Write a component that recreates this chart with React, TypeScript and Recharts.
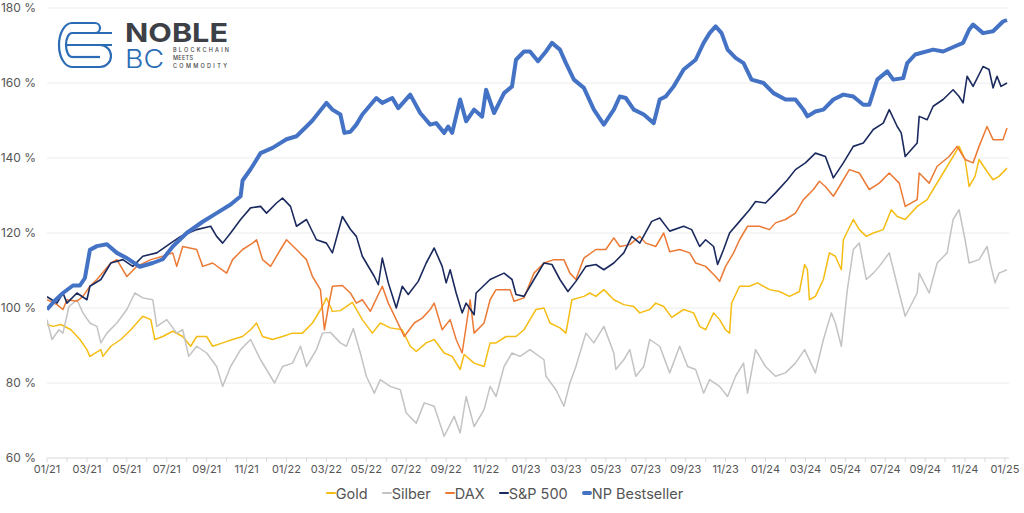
import { CartesianGrid, Legend, Line, LineChart, XAxis, YAxis } from "recharts";

// month index (0 = 01/21) and value in %
const gold: [number, number][] = [
  [0, 95.6], [0.3, 95.1], [0.7, 95.6], [1.2, 94.2], [1.65, 91.6], [2, 88.9], [2.15, 87.1], [2.7, 88.9],
  [2.8, 87.1], [3.2, 89.8], [3.7, 91.6], [4.2, 94.2], [4.5, 96], [4.8, 97.8], [5.2, 96.9], [5.4, 91.6],
  [5.8, 92.4], [6.3, 93.8], [6.8, 92.4], [7.2, 89.8], [7.5, 92.4], [8, 92.4], [8.3, 89.8], [8.8, 90.7],
  [9.3, 91.6], [9.8, 92.4], [10.2, 94.2], [10.5, 96], [10.8, 92.4], [11.3, 91.6], [11.8, 92.4], [12.3, 93.3],
  [12.8, 93.3], [13.3, 96], [13.8, 100.4], [14, 102.7], [14.3, 99.1], [14.7, 99.3], [15.3, 101.5], [15.8, 96.9],
  [16.3, 93.3], [16.7, 96], [17.2, 94.7], [17.8, 94.2], [18.2, 89.8], [18.5, 88.4], [19, 90.7], [19.4, 91.6],
  [19.9, 88], [20.3, 87.1], [20.7, 83.6], [20.9, 87.6], [21.4, 85.3], [21.9, 84.4], [22.2, 90.7], [22.5, 90.7],
  [23, 92.4], [23.5, 92.4], [23.9, 94.2], [24.2, 96.9], [24.5, 99.6], [24.9, 100], [25.2, 96], [25.7, 94.7],
  [26, 93.3], [26.3, 102.2], [26.9, 103.1], [27.2, 104], [27.5, 103.1], [27.9, 104.9], [28.4, 102.2], [28.9, 100.9],
  [29.4, 100.4], [29.7, 98.7], [30.2, 99.6], [30.5, 101.3], [30.9, 100.4], [31.3, 97.5], [31.9, 99.6], [32.4, 98.7],
  [32.7, 95.1], [33, 94.2], [33.4, 98.7], [33.7, 96.9], [34, 94.2], [34.2, 93.3], [34.3, 101.3], [34.7, 105.8],
  [35.2, 105.8], [35.6, 106.7], [36.2, 104.9], [36.7, 104.4], [37.2, 103.1], [37.7, 104.4], [37.96, 111.6], [38.1, 110.2],
  [38.2, 102.2], [38.5, 103.1], [38.9, 107.6], [39.2, 114.7], [39.5, 113.8], [39.8, 110.2], [39.9, 118.2], [40.4, 123.6],
  [40.7, 120.9], [41.05, 119.1], [41.4, 120], [41.9, 120.9], [42.3, 126.2], [42.6, 124.4], [43, 123.6], [43.6, 127.1],
  [44.1, 128.9], [44.4, 131.6], [44.9, 136], [45.4, 140.4], [45.7, 143.1], [46, 139.6], [46.2, 132.4], [46.5, 135.1],
  [46.7, 139.6], [47.1, 136.4], [47.4, 134.2], [47.7, 135.1], [48.1, 137.3],
];

const silber: [number, number][] = [
  [0, 96.9], [0.25, 91.6], [0.6, 94.2], [0.8, 93.3], [1.1, 100.4], [1.5, 102.2], [1.8, 98.7], [2.15, 96],
  [2.5, 95.1], [2.7, 90.7], [3, 93.3], [3.5, 96], [4, 99.6], [4.4, 104], [4.8, 102.7], [5.3, 102.2],
  [5.5, 95.1], [6, 96.9], [6.5, 93.3], [6.8, 94.2], [7.1, 87.1], [7.5, 89.8], [8, 88], [8.5, 84.4],
  [8.8, 79.1], [9.2, 84.4], [9.7, 88.9], [10.2, 91.6], [10.7, 86.2], [11.2, 81.8], [11.4, 80], [11.8, 84.4],
  [12.3, 85.3], [12.7, 89.8], [13, 84.4], [13.5, 88.9], [13.8, 93.3], [14.2, 93.5], [14.7, 90.7], [15, 89.8],
  [15.35, 94.5], [15.7, 88], [16, 81.8], [16.4, 77.3], [16.7, 80.9], [17.2, 79.1], [17.7, 78.2], [18, 72],
  [18.5, 69.3], [18.9, 74.7], [19.4, 73.8], [19.9, 65.8], [20.4, 71.1], [20.7, 66.7], [21, 76.4], [21.4, 68.4],
  [21.9, 72.9], [22.2, 79.1], [22.5, 76.4], [22.9, 84.4], [23.3, 88], [23.7, 87.1], [24.2, 88.9], [24.9, 86.2],
  [25, 81.8], [25.5, 78.2], [25.9, 73.8], [26.2, 80], [26.5, 84.4], [27, 93.3], [27.4, 90.7], [27.9, 95.1],
  [28.4, 88], [28.5, 83.6], [28.9, 86.2], [29.2, 88.9], [29.5, 81.8], [29.9, 84.4], [30.2, 91.6], [30.7, 89.8],
  [31.2, 82.7], [31.7, 89.8], [32.1, 84.4], [32.5, 83.6], [32.9, 77.3], [33.2, 80.9], [33.7, 79.1], [34.1, 76.4],
  [34.5, 81.8], [34.9, 85.3], [35.1, 77.3], [35.5, 88.9], [36, 84.4], [36.5, 81.8], [37, 82.7], [37.5, 85.3],
  [37.96, 88.9], [38.5, 82.7], [38.9, 91.6], [39.3, 98.7], [39.5, 96], [39.8, 89.8], [40.1, 104.9], [40.4, 115.6],
  [40.7, 117.3], [41.05, 107.6], [41.4, 109.3], [41.7, 111.1], [42.2, 114.7], [42.7, 104], [43, 97.8], [43.6, 104],
  [43.7, 109.3], [44.2, 104], [44.6, 112], [45.1, 114.7], [45.4, 123.6], [45.7, 126.2], [46, 118.2], [46.2, 112],
  [46.7, 112.9], [47.1, 116.4], [47.3, 111.1], [47.5, 106.7], [47.7, 109.3], [48.1, 110.2],
];

const dax: [number, number][] = [
  [0, 102.2], [0.5, 100.9], [0.8, 99.6], [1, 102.2], [1.5, 101.8], [1.8, 103.1], [2.15, 105.8], [2.5, 107.6],
  [3.2, 112], [3.5, 112.9], [4, 108.4], [4.5, 111.1], [5.2, 112.9], [5.8, 113.8], [6.3, 114.7], [6.5, 111.1],
  [6.8, 116.4], [7.5, 115.6], [7.8, 111.1], [8.3, 112], [9, 109.3], [9.3, 112.9], [9.8, 115.6], [10.3, 117.3],
  [10.5, 118.2], [10.8, 112.9], [11.2, 111.1], [11.7, 115.6], [12, 118.2], [12.5, 115.6], [13, 112.9], [13.3, 108.4],
  [13.7, 104.9], [13.9, 94.2], [14.1, 100.4], [14.3, 105.8], [14.8, 106], [15.2, 104], [15.5, 101.3], [15.8, 102.2],
  [16.2, 99.1], [16.8, 105.8], [17.1, 101.3], [17.5, 96.9], [17.9, 92.4], [18.4, 96], [18.8, 97.3], [19.2, 99.6],
  [19.4, 101.3], [19.8, 94.2], [20.2, 96.9], [20.5, 91.6], [20.8, 88], [21.2, 102.2], [21.4, 93.3], [21.9, 96],
  [22.2, 102.2], [22.5, 104.9], [23.2, 104.9], [23.4, 101.8], [23.9, 102.7], [24.4, 109.3], [24.9, 112], [25.4, 112.9],
  [25.9, 112.9], [26.2, 109.3], [26.5, 107.6], [26.9, 113.3], [27.5, 115.6], [28, 115.6], [28.4, 118.7], [28.7, 116.4],
  [29.2, 116.9], [29.7, 119.1], [30, 117.3], [30.5, 116.4], [30.9, 120], [31.2, 115], [31.7, 115.6], [32.2, 114.7],
  [32.5, 112], [33, 111.1], [33.5, 108.4], [33.7, 107.1], [34, 111.1], [34.4, 114.7], [34.7, 118.2], [35.1, 121.8],
  [35.7, 121.8], [36.2, 120.9], [36.5, 122.7], [37, 123.6], [37.5, 125.3], [37.9, 128.9], [38.4, 131.6], [38.7, 133.8],
  [39, 132.4], [39.4, 129.8], [39.7, 132.4], [40.2, 136.9], [40.7, 136], [41.2, 131.6], [41.7, 133.3], [42.2, 136],
  [42.7, 133.3], [43, 127.1], [43.6, 128.9], [43.7, 136], [44.2, 133.3], [44.6, 137.8], [45.2, 140.4], [45.6, 143.1],
  [46, 139.6], [46.4, 138.7], [46.7, 143.1], [47.1, 148.4], [47.4, 144.9], [47.9, 144.9], [48.1, 148],
];

const sp500: [number, number][] = [
  [0, 103], [0.3, 102], [0.5, 101.3], [0.8, 104], [1, 101.3], [1.5, 104], [2, 102.2], [2.15, 105.8],
  [2.7, 107.6], [3.2, 112], [3.8, 112.9], [4.3, 111.1], [4.8, 113.8], [5.5, 114.7], [6.2, 117.3], [6.7, 119.1],
  [7.5, 120.9], [8.2, 121.8], [8.5, 119.1], [8.8, 117.3], [9.2, 120], [9.7, 123.6], [10.2, 126.7], [10.7, 127.1],
  [11, 125.3], [11.5, 128], [11.8, 129.3], [12.2, 127.1], [12.5, 121.8], [13, 123.6], [13.5, 118.2], [14, 117.3],
  [14.3, 114.7], [14.8, 124.4], [15.2, 121], [15.5, 119.1], [15.8, 113.8], [16.4, 108.4], [16.6, 106.2], [16.8, 113.3],
  [17.1, 106.7], [17.5, 100], [17.8, 105.8], [18.1, 103.6], [18.6, 107.1], [19, 112], [19.4, 116], [19.8, 111.1],
  [20, 106.7], [20.2, 110.2], [20.5, 104], [20.8, 98.7], [21, 101.3], [21.4, 98.2], [21.5, 104], [22.2, 107.6],
  [22.9, 109.3], [23.3, 107.6], [23.5, 103.6], [23.9, 103.1], [24.4, 107.6], [24.9, 112], [25.3, 111.6], [25.7, 107.6],
  [26.1, 104.4], [26.5, 107.1], [27, 111.1], [27.5, 111.6], [27.9, 110.2], [28.4, 112], [28.9, 114.7], [29.3, 119.1],
  [29.7, 117.3], [30.3, 123.1], [30.7, 124], [31.2, 120.5], [31.9, 121.8], [32.3, 120.9], [32.7, 116.4], [33, 118.2],
  [33.4, 116.4], [33.6, 111.6], [33.9, 115.6], [34.2, 120], [34.7, 123.1], [35.2, 126.2], [35.5, 128.4], [36, 128],
  [36.5, 130.7], [37.1, 134.2], [37.5, 136.9], [38, 138.7], [38.5, 141.3], [39, 140.4], [39.4, 134.7], [39.9, 138.7],
  [40.4, 143.1], [40.9, 144], [41.4, 147.6], [41.9, 149.3], [42.2, 152.9], [42.6, 148.4], [42.8, 146.7], [43, 140.4],
  [43.6, 144], [43.7, 151.1], [44.1, 150.2], [44.4, 153.8], [44.9, 155.6], [45.4, 158.2], [45.7, 156.4], [45.9, 154.7],
  [46.1, 161.8], [46.4, 159.1], [46.9, 164.4], [47.2, 163.6], [47.4, 158.7], [47.6, 161.8], [47.8, 159.1], [48.1, 160],
];

const npBestseller: [number, number][] = [
  [0, 99.6], [0.4, 102], [0.8, 104], [1.3, 106], [1.65, 106], [1.9, 108], [2.15, 115.5], [2.5, 116.5],
  [3, 117], [3.5, 114.7], [4, 113.3], [4.65, 111], [5.3, 112], [5.8, 113], [6.3, 116.4], [7, 120],
  [7.8, 123], [8.5, 125.3], [9.2, 127.6], [9.7, 129.8], [9.8, 134], [10.2, 137], [10.7, 141.3], [11.3, 142.7],
  [12, 145], [12.5, 145.8], [13, 148.4], [13.3, 150], [14, 154.7], [14.3, 152.9], [14.7, 151.6], [14.9, 146.7],
  [15.2, 147], [15.5, 148.9], [15.8, 151.6], [16.5, 156], [16.8, 154.7], [17.3, 156], [17.6, 153.3], [18.2, 156.9],
  [18.7, 152], [19.2, 148.9], [19.5, 149.3], [19.9, 146.7], [20.1, 148.4], [20.3, 146.7], [20.7, 155.6], [21, 149.8],
  [21.4, 152.9], [21.8, 151], [22, 158.2], [22.4, 152], [22.9, 157.3], [23.3, 159.1], [23.5, 166.2], [23.9, 168.4],
  [24.2, 168.4], [24.6, 165.8], [25, 168.4], [25.3, 170.7], [25.7, 168.9], [26, 165.3], [26.4, 160.9], [26.9, 158.7],
  [27.4, 152.9], [27.9, 148.9], [28.4, 152.9], [28.7, 156.4], [29, 156], [29.4, 152.9], [29.9, 151.6], [30.4, 149.3],
  [30.7, 155.6], [31, 156.4], [31.4, 159.1], [31.9, 163.6], [32.5, 166.2], [32.9, 170.7], [33.2, 173.3], [33.5, 175.1],
  [33.8, 173.3], [34.1, 168.9], [34.5, 166.7], [34.9, 165.3], [35.3, 160.9], [35.9, 160], [36.4, 157.3], [37, 155.6],
  [37.5, 155.6], [37.9, 152.9], [38.1, 151.1], [38.5, 152.4], [38.9, 152.9], [39.4, 155.6], [39.9, 156.9], [40.4, 156.4],
  [40.9, 154.2], [41.2, 154.2], [41.6, 160.9], [42.1, 163.1], [42.4, 160.9], [42.9, 161.3], [43.1, 165.3], [43.5, 167.6],
  [44.4, 168.9], [44.9, 168.4], [45.5, 169.8], [45.9, 170.7], [46.2, 174.2], [46.4, 175.6], [46.9, 173.3], [47.4, 173.8],
  [47.9, 176.4], [48.1, 176.8],
];

const tickLabels = [
  "01/21", "03/21", "05/21", "07/21", "09/21", "11/21", "01/22", "03/22", "05/22", "07/22", "09/22", "11/22",
  "01/23", "03/23", "05/23", "07/23", "09/23", "11/23", "01/24", "03/24", "05/24", "07/24", "09/24", "11/24", "01/25",
];
const yTicks = [60, 80, 100, 120, 140, 160, 180];
const monthTicks = Array.from({ length: 49 }, (_, i) => i);

const series = [
  { name: "Gold", color: "#f5bd14", width: 1.5, data: gold },
  { name: "Silber", color: "#c3c3c3", width: 1.5, data: silber },
  { name: "DAX", color: "#ec7a35", width: 1.5, data: dax },
  { name: "S&P 500", color: "#1b2a5e", width: 1.6, data: sp500 },
  { name: "NP Bestseller", color: "#4472c4", width: 4, data: npBestseller },
];

const toPoints = (arr: [number, number][]) => arr.map(([m, v]) => ({ m, v }));

function LegendContent() {
  return (
    <div
      style={{
        display: "flex",
        justifyContent: "center",
        alignItems: "center",
        height: 30,
        fontSize: 14.5,
        color: "#555",
        gap: 14,
      }}
    >
      {series.map((s) => (
        <span key={s.name} style={{ display: "flex", alignItems: "center" }}>
          <span
            style={{
              display: "inline-block",
              width: 10,
              height: s.width > 2 ? 4 : 2,
              background: s.color,
              borderRadius: 2,
            }}
          />
          {s.name}
        </span>
      ))}
    </div>
  );
}

function Logo() {
  const blue = "#2b6cb5";
  return (
    <svg width={240} height={80} style={{ position: "absolute", left: 0, top: 0, pointerEvents: "none" }}>
      <g stroke={blue} strokeWidth={2.2} fill="none">
        <path d="M 72 23 L 95 23 A 5 5 0 0 1 95 33" />
        <path d="M 72 33 L 112 33" />
        <path d="M 72 23 A 13 22 0 0 0 72 67" />
        <path d="M 72 33 A 6 12 0 0 0 72 57" />
        <path d="M 66 45 L 112 45" />
        <path d="M 72 67 L 100 67 A 11 11 0 0 0 100 45" />
        <path d="M 72 57 L 100 57" />
      </g>
      <text x={125} y={42} fontSize={26} fontWeight={700} fill="#3d4046" textLength={103} lengthAdjust="spacingAndGlyphs">
        NOBLE
      </text>
      <text x={125} y={68} fontSize={26} fontWeight={300} fill={blue} textLength={39} lengthAdjust="spacingAndGlyphs">
        BC
      </text>
      <g fontSize={5.5} fill="#444" fontWeight={500}>
        <text x={173} y={52} textLength={56} lengthAdjust="spacing">BLOCKCHAIN</text>
        <text x={173} y={60} textLength={20} lengthAdjust="spacing">MEETS</text>
        <text x={173} y={68} textLength={54} lengthAdjust="spacing">COMMODITY</text>
      </g>
    </svg>
  );
}

export default function App() {
  return (
    <div
      style={{
        position: "fixed",
        left: 0,
        top: 0,
        width: 1024,
        height: 513,
        background: "#fff",
        fontFamily: "Inter, 'Noto Sans', sans-serif",
      }}
    >
      <LineChart width={1024} height={513} margin={{ top: 8, right: 15, left: 0, bottom: 0 }}>
        <CartesianGrid vertical={false} stroke="#ececec" />
        <XAxis
          dataKey="m"
          type="number"
          domain={[0, 48.2]}
          ticks={monthTicks}
          interval={0}
          height={20}
          tickSize={4}
          tickMargin={3}
          axisLine={{ stroke: "#e2e2e2" }}
          tickLine={{ stroke: "#dcdcdc" }}
          tick={{ fill: "#555", fontSize: 11 }}
          tickFormatter={(m: number) => (m % 2 === 0 ? tickLabels[m / 2] : "")}
          allowDataOverflow
        />
        <YAxis
          type="number"
          domain={[60, 180]}
          ticks={yTicks}
          width={47}
          axisLine={false}
          tickLine={false}
          tickSize={0}
          tickMargin={11}
          tick={{ fill: "#555", fontSize: 12 }}
          tickFormatter={(v: number) => `${v} %`}
        />
        {series.map((s) => (
          <Line
            key={s.name}
            data={toPoints(s.data)}
            dataKey="v"
            name={s.name}
            type="linear"
            stroke={s.color}
            strokeWidth={s.width}
            dot={false}
            activeDot={false}
            isAnimationActive={false}
            strokeLinejoin="round"
          />
        ))}
        <Legend verticalAlign="bottom" content={<LegendContent />} wrapperStyle={{ height: 35 }} />
      </LineChart>
      <Logo />
    </div>
  );
}
